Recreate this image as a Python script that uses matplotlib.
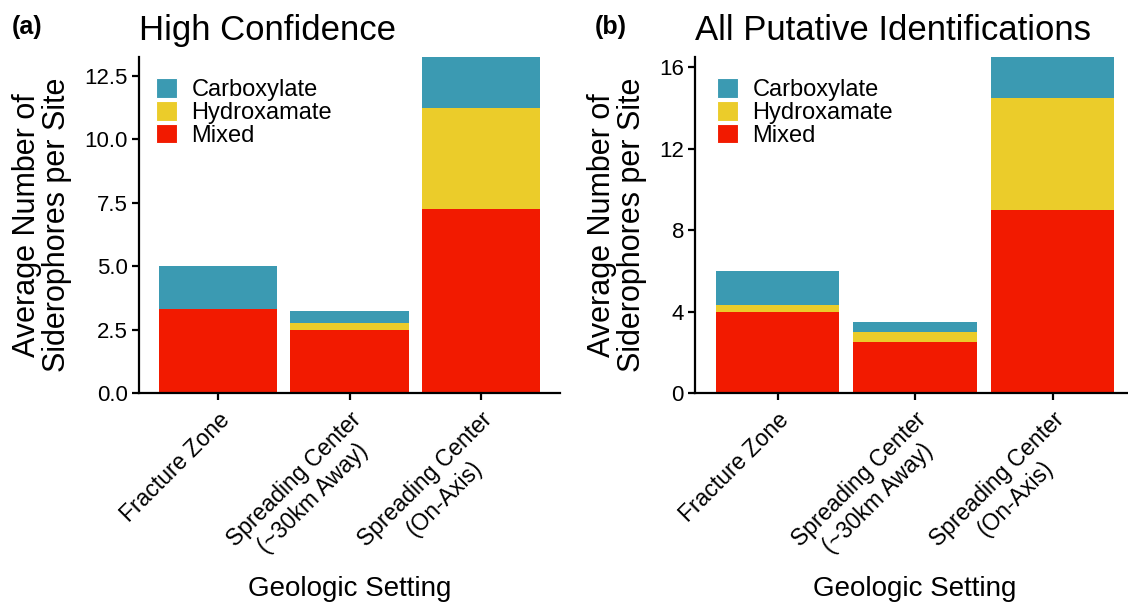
import matplotlib.pyplot as plt
import numpy as np
from matplotlib.patches import Patch

# average siderophores per site, split by type
settings = ["Fracture Zone", "Spreading Center\n(~30km Away)", "Spreading Center\n(On-Axis)"]
types = ["Mixed", "Hydroxamate", "Carboxylate"]
legend_order = ["Carboxylate", "Hydroxamate", "Mixed"]
colors = {"Carboxylate": "#3B9AB2", "Hydroxamate": "#EBCC2A", "Mixed": "#F21A00"}

high_mixed = [3.33, 2.5, 7.25]
high_hydrox = [0.0, 0.25, 4.0]
high_carbox = [1.67, 0.5, 2.0]

all_mixed = [4.0, 2.5, 9.0]
all_hydrox = [0.33, 0.5, 5.5]
all_carbox = [1.67, 0.5, 2.0]

plt.rcParams['font.family'] = ['Liberation Sans', 'DejaVu Sans']

fig = plt.figure(figsize=(11.28, 6.07), dpi=100)
W, H = 1128, 607


def panel(rect, mixed, hydrox, carbox, ymax, yticks, ylabels, title, tag, tag_x, leg_dx):
    ax = fig.add_axes(rect)
    x = np.arange(1, 4)
    vals = {"Mixed": mixed, "Hydroxamate": hydrox, "Carboxylate": carbox}
    bottom = np.zeros(3)
    for t in types:
        v = np.array(vals[t])
        ax.bar(x, v, width=0.9, bottom=bottom, color=colors[t], linewidth=0)
        bottom += v
    ax.set_xlim(0.4, 3.6)
    ax.set_ylim(0, ymax)
    ax.set_yticks(yticks)
    ax.set_yticklabels(ylabels, fontsize=16)
    ax.set_xticks(x)
    ax.set_xticklabels(settings, rotation=45, ha='right', rotation_mode='anchor',
                       multialignment='center', fontsize=16.5)
    for s in ['top', 'right']:
        ax.spines[s].set_visible(False)
    for s in ['left', 'bottom']:
        ax.spines[s].set_linewidth(1.6)
    ax.tick_params(axis='both', length=5, width=1.6, color='black', labelcolor='black', pad=3)
    ax.tick_params(axis='x', pad=6)
    ax.set_ylabel("Average Number of\nSiderophores per Site", fontsize=22, labelpad=9,
                  linespacing=1.0)
    ax.set_xlabel("Geologic Setting", fontsize=20, va='center')
    ax.xaxis.set_label_coords(0.5, -(589 - 393) / (rect[3] * H))
    ax.set_title(title, fontsize=25, loc='left', pad=12)
    handles = [Patch(facecolor=colors[t], edgecolor='white', linewidth=0.8) for t in legend_order]
    ax.legend(handles, legend_order, loc='upper left',
              bbox_to_anchor=(leg_dx / (rect[2] * W), 1 - 21 / (rect[3] * H)),
              frameon=False, fontsize=17, borderpad=0, borderaxespad=0,
              handlelength=0.9, handleheight=0.9, handletextpad=0.6, labelspacing=0.0)
    fig.text(tag_x, 1 - 27 / H, tag, fontsize=18, fontweight='bold', va='center')
    return ax


panel([139 / W, 1 - 393 / H, 421 / W, 336 / H], high_mixed, high_hydrox, high_carbox,
      13.25, [0, 2.5, 5, 7.5, 10, 12.5], ["0.0", "2.5", "5.0", "7.5", "10.0", "12.5"],
      "High Confidence", "(a)", 12 / W, 17)
panel([695 / W, 1 - 393 / H, 440 / W, 336 / H], all_mixed, all_hydrox, all_carbox,
      16.5, [0, 4, 8, 12, 16], ["0", "4", "8", "12", "16"],
      "All Putative Identifications", "(b)", 595 / W, 22)

fig.savefig("out.png", dpi=100)
